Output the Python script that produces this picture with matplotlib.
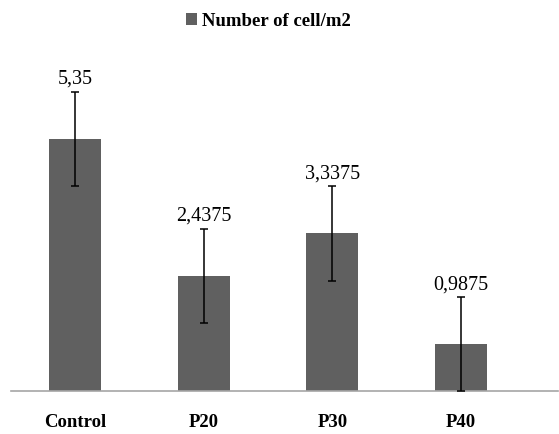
import numpy as np
import matplotlib.pyplot as plt
from matplotlib.patches import Patch

categories = ["Control", "P20", "P30", "P40"]
values = [5.35, 2.4375, 3.3375, 0.9875]
errors = [1.0, 1.0, 1.0, 1.0]
labels = ["5,35", "2,4375", "3,3375", "0,9875"]
series_name = "Number of cell/m2"

plt.rcParams['font.family'] = ['Liberation Serif', 'DejaVu Serif']

fig = plt.figure(figsize=(5.59, 4.34), dpi=100)
ax = fig.add_axes([0.0201, 0.0998, 0.978, 0.7597])

x = np.arange(len(categories))
ax.bar(x, values, width=0.405, color="#606060", zorder=2)
ax.errorbar(x, values, yerr=errors, fmt="none", ecolor="black",
            elinewidth=1.1, capsize=3, capthick=1.1, zorder=3)

for xi, v, e, lab in zip(x, values, errors, labels):
    ax.annotate(lab, (xi, v + e), xytext=(0, 2), textcoords="offset points",
                ha="center", va="bottom", fontsize=14.5)

ax.set_xlim(-0.5, 3.757)
ax.set_ylim(0, 7)
ax.set_yticks([])
ax.set_xticks(x)
ax.set_xticklabels(categories, fontsize=13.5, fontweight="bold")
ax.tick_params(axis="x", length=0, pad=17)
for s in ["top", "right", "left"]:
    ax.spines[s].set_visible(False)
ax.spines["bottom"].set_color("#a6a6a6")
ax.spines["bottom"].set_linewidth(1.2)

handle = Patch(facecolor="#606060", label=series_name)
fig.legend(handles=[handle], loc="upper center", bbox_to_anchor=(0.48, 1.01),
           frameon=False, prop={"size": 13.5, "weight": "bold"},
           handlelength=0.6, handleheight=0.6, handletextpad=0.3)

fig.savefig("out.png", dpi=100)
